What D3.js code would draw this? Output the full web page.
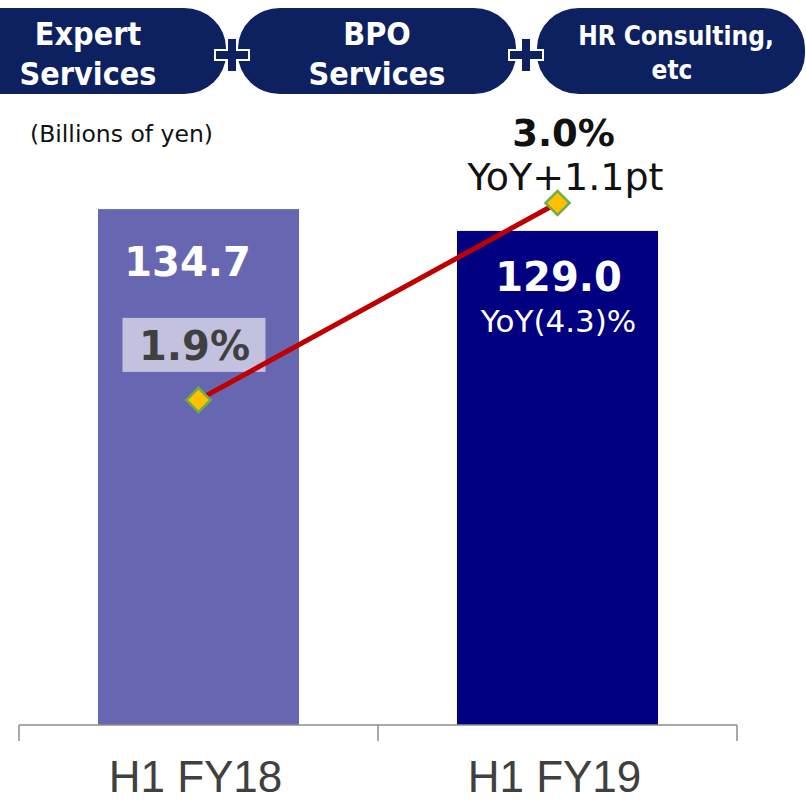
<!DOCTYPE html>
<html><head><meta charset="utf-8">
<script src="https://cdn.jsdelivr.net/npm/d3@7"></script>
<style>body{margin:0;background:#fff}svg{display:block}</style>
</head><body>
<script>
const categories = ["H1 FY18", "H1 FY19"];
const revenue = [134.7, 129.0];
const revenueLabels = ["134.7", "129.0"];
const margin = [1.9, 3.0];
const marginLabels = ["1.9%", "3.0%"];
const yoyRevenue = [null, "YoY(4.3)%"];
const yoyMargin = [null, "YoY+1.1pt"];
const barColors = ["#6767b1", "#000080"];
const headerItems = [["Expert", "Services"], ["BPO", "Services"], ["HR Consulting,", "etc"]];

const W = 806, H = 802;
const svg = d3.select("body").append("svg").attr("width", W).attr("height", H);

// header pills
const pills = [{x0:-60,x1:226},{x0:238,x1:516},{x0:537,x1:805}];
const navy = "#0d2160";
pills.forEach((p,i)=>{
  svg.append("rect").attr("x",p.x0).attr("y",8).attr("width",p.x1-p.x0).attr("height",86)
    .attr("rx",42).attr("ry",40).attr("fill",navy);
  const cx = i===0 ? 88 : (i===2 ? 676 : (p.x0+p.x1)/2);
  const fs = i===2 ? 26 : 32;
  const t = svg.append("text").attr("text-anchor","middle").attr("fill","#fff")
    .attr("font-family","'DejaVu Sans Condensed','DejaVu Sans',sans-serif").attr("font-weight","bold")
    .attr("font-size",fs);
  const lines = headerItems[i];
  t.append("tspan").attr("x",cx).attr("y", 45).text(lines[0]);
  t.append("tspan").attr("x",i===2?cx-4:cx).attr("y", i===2?79:85).text(lines[1]);
});
// plus signs
[232,526].forEach(cx=>{
  const cy = 55;
  const arm = 17, th = 5;
  const d = `M${cx-th},${cy-arm}H${cx+th}V${cy-th}H${cx+arm}V${cy+th}H${cx+th}V${cy+arm}H${cx-th}V${cy+th}H${cx-arm}V${cy-th}H${cx-th}Z`;
  svg.append("path").attr("d",d).attr("fill",navy).attr("stroke","#fff").attr("stroke-width",2);
});

svg.append("text").attr("x",30).attr("y",142).attr("font-family","'DejaVu Sans',sans-serif")
  .attr("font-size",23.5).attr("fill","#111").text("(Billions of yen)");

// scales
const x = d3.scaleBand().domain(categories).range([19,737]).paddingInner(0.44).paddingOuter(0.22);
const y = d3.scaleLinear().domain([0,150]).range([725,725-150*3.83]);
const y2 = d3.scaleLinear().domain([0,4]).range([740,740-4*179]);

// bars
svg.selectAll("rect.bar").data(categories).enter().append("rect").attr("class","bar")
  .attr("x",d=>x(d)).attr("width",x.bandwidth())
  .attr("y",(d,i)=>y(revenue[i])).attr("height",(d,i)=>y(0)-y(revenue[i]))
  .attr("fill",(d,i)=>barColors[i]);

// axis
const axisG = svg.append("g").attr("transform","translate(0,725)");
axisG.append("line").attr("x1",19).attr("x2",737).attr("stroke","#8c8c8c").attr("stroke-width",1.5);
const bounds = [19, ...categories.slice(1).map(c=>x(c)-x.step()*x.paddingInner()/2), 737];
bounds.forEach(bx=>axisG.append("line").attr("x1",bx).attr("x2",bx).attr("y1",0).attr("y2",16).attr("stroke","#8c8c8c").attr("stroke-width",1.5));
categories.forEach(c=>{
  svg.append("text").attr("x",x(c)+x.bandwidth()/2-3).attr("y",792).attr("text-anchor","middle")
    .attr("font-family","'Liberation Sans Narrow','Arial Narrow','Liberation Sans',sans-serif")
    .attr("font-size",44).attr("fill","#404040").text(c);
});

// revenue labels
categories.forEach((c,i)=>{
  const cx = x(c)+x.bandwidth()/2;
  svg.append("text").attr("x",cx-11+i*12).attr("y",y(revenue[i])+67+(i?-7:0)).attr("text-anchor","middle")
    .attr("font-family","'DejaVu Sans',sans-serif").attr("font-weight","bold").attr("font-size",40)
    .attr("fill","#fff").text(revenueLabels[i]);
  if (yoyRevenue[i]) svg.append("text").attr("x",cx+1).attr("y",y(revenue[i])+101).attr("text-anchor","middle")
    .attr("font-family","'DejaVu Sans',sans-serif").attr("font-size",31).attr("fill","#fff").text(yoyRevenue[i]);
});

// line
const pts = categories.map((c,i)=>[x(c)+x.bandwidth()/2, y2(margin[i])]);
const p0 = pts[0];
svg.append("rect").attr("x",p0[0]-76).attr("y",p0[1]-82).attr("width",143).attr("height",54)
  .attr("fill","#fff").attr("fill-opacity",0.6);
svg.append("text").attr("x",p0[0]-4).attr("y",p0[1]-40).attr("text-anchor","middle")
  .attr("font-family","'DejaVu Sans',sans-serif").attr("font-weight","bold").attr("font-size",40)
  .attr("fill","#404040").text(marginLabels[0]);
svg.append("path").attr("d",d3.line()(pts)).attr("stroke","#c00000").attr("stroke-width",5).attr("fill","none");
pts.forEach(p=>{
  svg.append("path").attr("d",d3.symbol(d3.symbolSquare,290)()).attr("transform",`translate(${p[0]},${p[1]}) rotate(45)`)
    .attr("fill","#ffc000").attr("stroke","#70ad47").attr("stroke-width",2.5);
});
const p1 = pts[1];
svg.append("text").attr("x",p1[0]+6).attr("y",p1[1]-57).attr("text-anchor","middle")
  .attr("font-family","'DejaVu Sans',sans-serif").attr("font-weight","bold").attr("font-size",37)
  .attr("fill","#111").text(marginLabels[1]);
svg.append("text").attr("x",p1[0]+8).attr("y",p1[1]-13).attr("text-anchor","middle")
  .attr("font-family","'DejaVu Sans',sans-serif").attr("font-size",38)
  .attr("fill","#111").text(yoyMargin[1]);
</script>
</body></html>
